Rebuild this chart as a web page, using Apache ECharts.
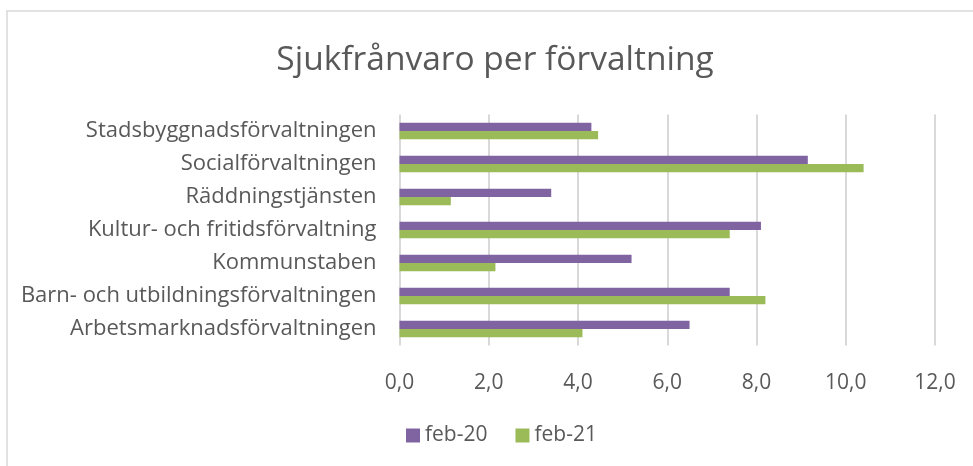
<!DOCTYPE html>
<html>
<head>
<meta charset="utf-8">
<script src="https://cdn.jsdelivr.net/npm/echarts@6/dist/echarts.min.js"></script>
<style>
html,body{margin:0;padding:0;background:#fff;}
#c{width:973px;height:466px;}
</style>
</head>
<body>
<div id="c"></div>
<script>
var categories = [
  "Stadsbyggnadsförvaltningen",
  "Socialförvaltningen",
  "Räddningstjänsten",
  "Kultur- och fritidsförvaltning",
  "Kommunstaben",
  "Barn- och utbildningsförvaltningen",
  "Arbetsmarknadsförvaltningen"
];
var feb20 = [4.3, 9.15, 3.4, 8.1, 5.2, 7.4, 6.5];
var feb21 = [4.45, 10.4, 1.15, 7.4, 2.15, 8.2, 4.1];
var seriesNames = ["feb-20", "feb-21"];
var titleText = "Sjukfrånvaro per förvaltning";

var FONT = "Open Sans";
var TXT = "#595959";
var chart = echarts.init(document.getElementById('c'), null, {renderer: 'canvas'});
chart.setOption({
  backgroundColor: '#fff',
  animation: false,
  graphic: [{
    type: 'rect',
    shape: {x: 7, y: 11, width: 1000, height: 500},
    style: {fill: 'none', stroke: '#d9d9d9', lineWidth: 1.5},
    silent: true
  }],
  title: {
    text: titleText,
    left: 490,
    textAlign: 'center',
    top: 38,
    textStyle: {fontFamily: FONT, fontSize: 33.5, fontWeight: 'normal', color: TXT}
  },
  legend: {
    left: 406,
    top: 425,
    padding: 0,
    itemWidth: 14,
    itemHeight: 14,
    itemGap: 28,
    icon: 'rect',
    textStyle: {fontFamily: FONT, fontSize: 21, color: TXT},
    data: seriesNames
  },
  grid: {left: 399.5, right: 38, top: 114.5, bottom: 120.5, containLabel: false},
  xAxis: {
    type: 'value',
    min: 0, max: 12, interval: 2,
    axisLine: {show: false},
    axisTick: {show: false},
    splitLine: {lineStyle: {color: '#d9d9d9', width: 2}},
    axisLabel: {
      fontFamily: FONT, fontSize: 21, color: TXT, margin: 27,
      formatter: function (v) { return v.toFixed(1).replace('.', ','); }
    }
  },
  yAxis: {
    type: 'category',
    inverse: true,
    data: categories,
    axisLine: {show: false},
    axisTick: {show: false},
    axisLabel: {fontFamily: FONT, fontSize: 22, color: TXT, margin: 23}
  },
  series: [
    {name: seriesNames[0], type: 'bar', data: feb20, itemStyle: {color: '#8064a2'}, barGap: '0%', barCategoryGap: '50%'},
    {name: seriesNames[1], type: 'bar', data: feb21, itemStyle: {color: '#9bbb59'}, barGap: '0%', barCategoryGap: '50%'}
  ]
});
</script>
</body>
</html>
